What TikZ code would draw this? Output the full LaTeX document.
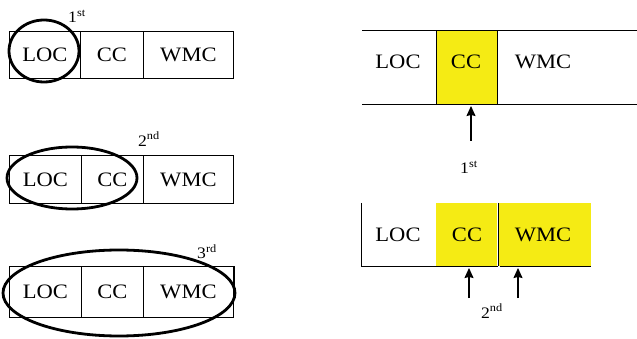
\documentclass[tikz,border=0pt]{standalone}
\usepackage{fontspec}
\setmainfont[FakeStretch=1.1]{Liberation Serif}
\usetikzlibrary{arrows.meta}
\definecolor{hilite}{RGB}{245,235,20}
\begin{document}
\begin{tikzpicture}[x=1pt,y=-1pt,
  cell/.style={draw,line width=0.8pt,inner sep=0pt,anchor=north west,
    font=\fontsize{20.5}{22}\selectfont},
  word/.style={inner sep=0pt,font=\fontsize{20.5}{22}\selectfont},
  order/.style={inner sep=0pt,font=\fontsize{16}{17}\selectfont},
  loop/.style={line width=2.8pt},
  rule/.style={line width=0.9pt},
  up/.style={line width=1.2pt,-{Stealth[length=10pt,width=9pt,inset=1pt]}}]
\useasboundingbox (0,0) rectangle (637,339);

% ---- left: three orderings of the cells ----
% first row
\node[cell,minimum width=71pt,minimum height=47pt] (loca) at (9,31) {LOC};
\node[cell,minimum width=63pt,minimum height=47pt] (cca) at (80,31) {CC};
\node[cell,minimum width=90pt,minimum height=47pt] (wmca) at (143,31) {WMC};
\draw[loop] (44,51) ellipse [x radius=35, y radius=31];
\node[order] (firsta) at (77,16) {1\textsuperscript{st}};

% second row
\node[cell,minimum width=72pt,minimum height=48pt] (locb) at (9,155) {LOC};
\node[cell,minimum width=62pt,minimum height=48pt] (ccb) at (81,155) {CC};
\node[cell,minimum width=90pt,minimum height=48pt] (wmcb) at (143,155) {WMC};
\draw[loop] (72,178) ellipse [x radius=65, y radius=31];
\node[order] (secondb) at (149,139) {2\textsuperscript{nd}};

% third row
\node[cell,minimum width=72pt,minimum height=51pt] (locc) at (9,266) {LOC};
\node[cell,minimum width=62pt,minimum height=51pt] (ccc) at (81,266) {CC};
\node[cell,minimum width=90pt,minimum height=51pt] (wmcc) at (143,266) {WMC};
\draw[line width=2pt] (wmcc.north east) -- ++(0,24);
\draw[loop] (119,293) ellipse [x radius=116, y radius=43];
\node[order] (thirdc) at (207,252) {3\textsuperscript{rd}};

% ---- right, top: single highlighted cell ----
\draw[rule] (362,30) -- (637,30);
\draw[rule] (362,104) -- (637,104);
\node[cell,fill=hilite,minimum width=61pt,minimum height=74pt] (ccr) at (436,30) {};
\node[word] (locr) at (398,62) {LOC};
\node[word] (ccrt) at (466,62) {CC};
\node[word] (wmcr) at (543,62) {WMC};
\node[order] (firstr) at (469,167) {1\textsuperscript{st}};
\coordinate (tailr) at (471,141);
\draw[up] (tailr) -- (471,106);

% ---- right, bottom: two highlighted cells ----
\fill[hilite] (436,203) rectangle (497,266);
\fill[hilite] (499,203) rectangle (591,266);
\draw[rule] (361,203) -- (361,266) -- (497.5,266);
\draw[rule] (499.5,266) -- (591,266);
\draw[rule] (498,203) -- (498,266);
\node[word] (locs) at (398,235) {LOC};
\node[word] (ccs) at (467,235) {CC};
\node[word] (wmcs) at (543,235) {WMC};
\node[order] (seconds) at (492,311) {2\textsuperscript{nd}};
\coordinate (tails1) at (469,298);
\coordinate (tails2) at (518,298);
\draw[up] (tails1) -- (469,268);
\draw[up] (tails2) -- (518,268);
\end{tikzpicture}
\end{document}
